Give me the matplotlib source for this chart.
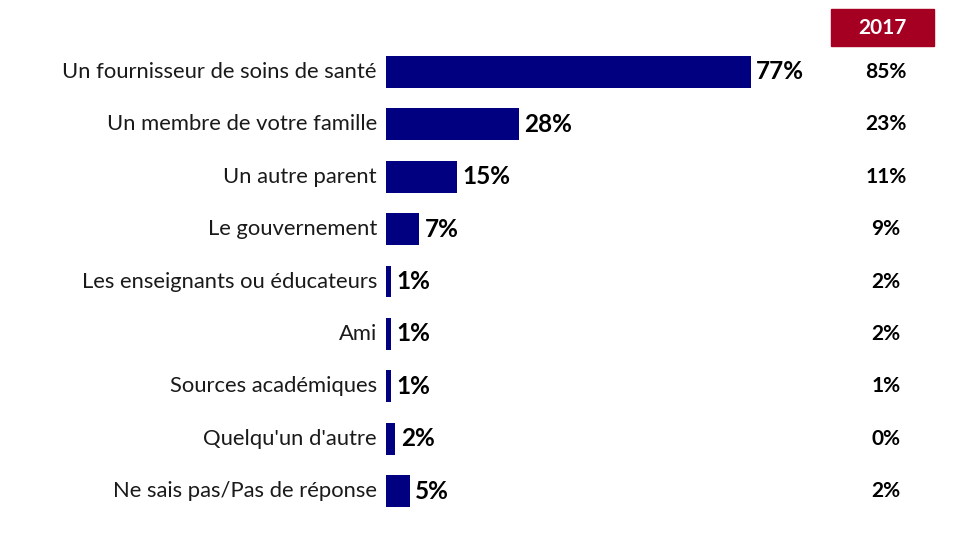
import matplotlib
matplotlib.use("Agg")
import matplotlib.pyplot as plt
from matplotlib.patches import Rectangle
from matplotlib.transforms import blended_transform_factory

plt.rcParams["font.family"] = ["Lato", "DejaVu Sans"]

categories = [
    "Un fournisseur de soins de santé",
    "Un membre de votre famille",
    "Un autre parent",
    "Le gouvernement",
    "Les enseignants ou éducateurs",
    "Ami",
    "Sources académiques",
    "Quelqu'un d'autre",
    "Ne sais pas/Pas de réponse",
]
values_current = [77, 28, 15, 7, 1, 1, 1, 2, 5]
values_2017 = [85, 23, 11, 9, 2, 2, 1, 0, 2]
year_label = "2017"

BAR = "#000080"
RED = "#A50021"

fig = plt.figure(figsize=(9.6, 5.35), dpi=100)
ax = fig.add_axes([386 / 960, 1 - 517.2 / 535, 474 / 960, 471.4 / 535])

y = list(range(len(categories)))
ax.barh(y, values_current, height=0.61, color=BAR)
ax.set_xlim(0, 100)
ax.set_ylim(len(categories) - 0.5, -0.5)
ax.axis("off")

for yi, v, lab in zip(y, values_current, categories):
    ax.text(v + 1.1, yi, f"{v}%", va="center", ha="left",
            fontsize=17.5, fontweight="bold", color="black")
    ax.annotate(lab, xy=(0, yi), xytext=(-6.5, 0), textcoords="offset points",
                va="center", ha="right", fontsize=15.8, color="#1a1a1a",
                annotation_clip=False)

# 2017 comparison column
tr = blended_transform_factory(fig.transFigure, ax.transData)
for yi, v in zip(y, values_2017):
    ax.text(886 / 960, yi, f"{v}%", transform=tr, va="center", ha="center",
            fontsize=15, fontweight="bold", color="black")

fig.patches.append(Rectangle((831 / 960, 1 - 45.5 / 535), 103 / 960, 36 / 535,
                             transform=fig.transFigure, color=RED, zorder=0))
fig.text(882 / 960, 1 - 27.5 / 535, year_label, ha="center", va="center",
         fontsize=15, fontweight="bold", color="white")

fig.savefig("out.png", dpi=100)
